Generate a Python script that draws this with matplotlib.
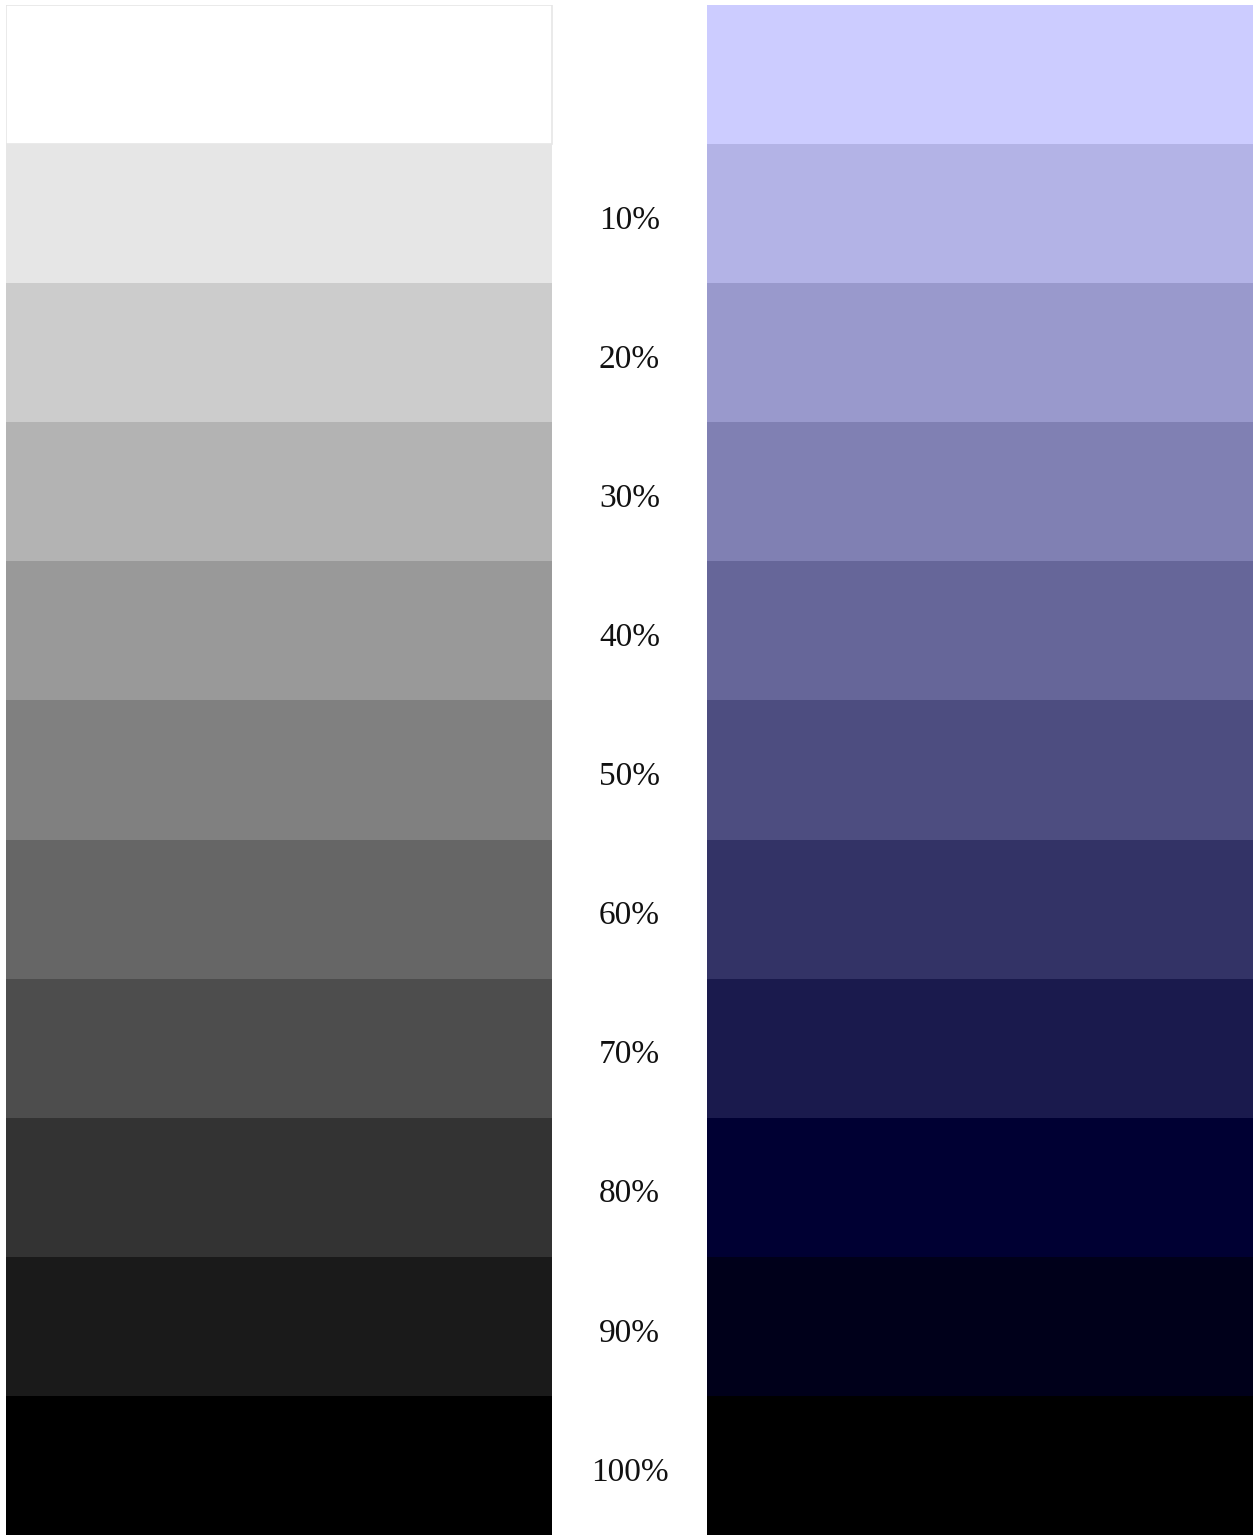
import matplotlib
matplotlib.use("Agg")
import matplotlib.pyplot as plt

# shade steps, 0% (white) to 100% (black)
levels = [0, 10, 20, 30, 40, 50, 60, 70, 80, 90, 100]
labels = ["", "10%", "20%", "30%", "40%", "50%", "60%", "70%", "80%", "90%", "100%"]
gray_colors = ["#ffffff", "#e6e6e6", "#cccccc", "#b3b3b3", "#999999", "#808080",
               "#666666", "#4d4d4d", "#333333", "#1a1a1a", "#000000"]
blue_colors = ["#ccccff", "#b3b3e6", "#9999cc", "#8080b3", "#666699", "#4d4d80",
               "#333366", "#1a1a4d", "#000033", "#00001a", "#000000"]

W, H = 1253, 1535
fig = plt.figure(figsize=(W / 100, H / 100), dpi=100)
ax = fig.add_axes([6 / W, 0, (W - 6) / W, (H - 5) / H])

rows = list(range(len(levels)))
col_w = 546
gap = 156

ax.barh(rows, col_w, left=0, height=1.0, color=gray_colors, linewidth=0)
ax.barh(rows, col_w, left=col_w + gap, height=1.0, color=blue_colors, linewidth=0)
# faint outline around the white swatch
ax.barh(rows[0], col_w, left=0, height=1.0, color="none",
        edgecolor="#e6e6e6", linewidth=1.2)

for r, lab in zip(rows, labels):
    if lab:
        ax.text(col_w + gap / 2, r + 0.05, lab, ha="center", va="center",
                fontsize=24, family="Liberation Serif", color="#111111")

ax.set_xlim(0, 2 * col_w + gap)
ax.set_ylim(len(levels) - 0.5, -0.5)
ax.axis("off")

fig.savefig("out.png", dpi=100, facecolor="white")
